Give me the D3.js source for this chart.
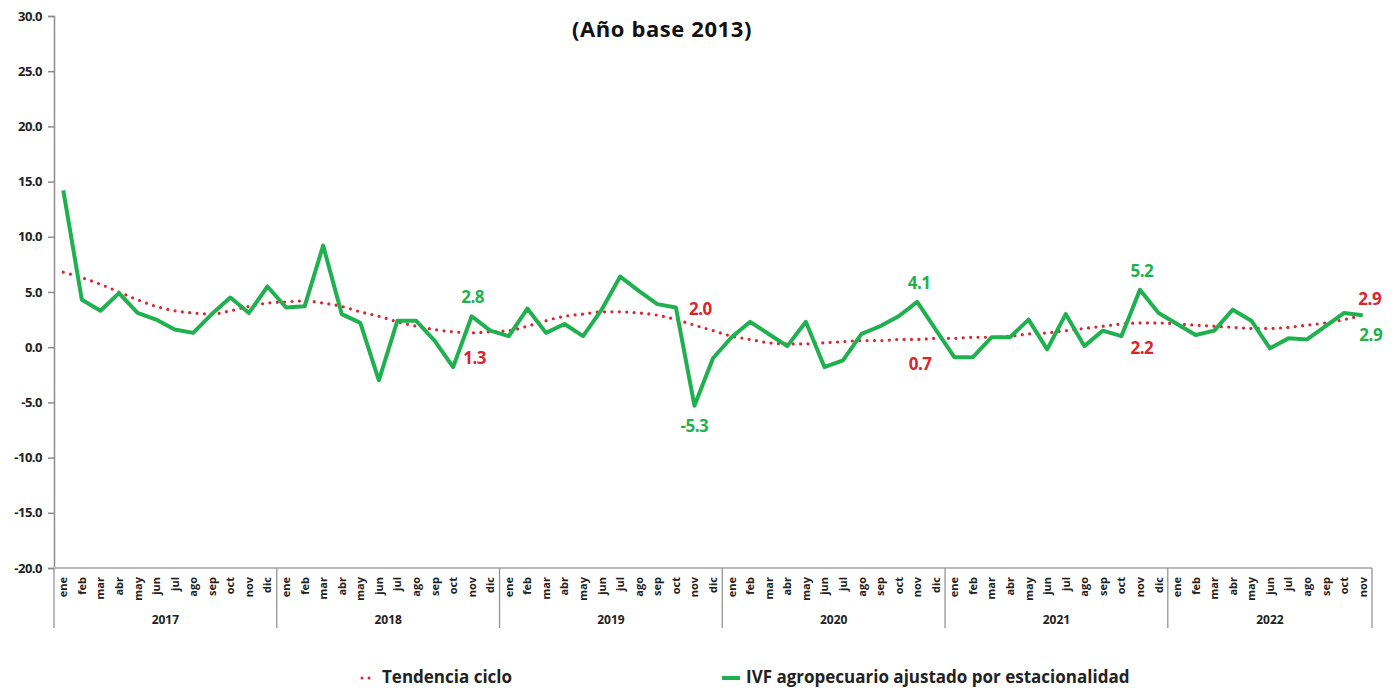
<!DOCTYPE html>
<html><head><meta charset="utf-8">
<script src="https://cdn.jsdelivr.net/npm/d3@7"></script>
<style>
body{margin:0;background:#fff;}
text{font-family:"Open Sans","DejaVu Sans",sans-serif;}
</style></head>
<body><svg id="c" width="1397" height="688"></svg>
<script>
const monthNames = ["ene","feb","mar","abr","may","jun","jul","ago","sep","oct","nov","dic"];
const years = ["2017","2018","2019","2020","2021","2022"];
const monthsPerYear = [12,12,12,12,12,11];
const yTicks = [30,25,20,15,10,5,0,-5,-10,-15,-20];
const ivf = [
 14.2,4.3,3.3,4.9,3.1,2.5,1.6,1.3,3.0,4.5,3.1,5.5,
 3.6,3.7,9.2,3.0,2.2,-3.0,2.4,2.4,0.6,-1.8,2.8,1.5,
 1.0,3.5,1.3,2.1,1.0,3.4,6.4,5.1,3.9,3.6,-5.3,-1.0,
 0.9,2.3,1.2,0.1,2.3,-1.8,-1.2,1.2,1.9,2.8,4.1,1.6,
 -0.9,-0.9,0.9,0.9,2.5,-0.2,3.0,0.1,1.5,1.0,5.2,3.1,
 2.1,1.1,1.5,3.4,2.4,-0.1,0.8,0.7,1.9,3.1,2.9
];
const trend = [
 6.8,6.3,5.7,5.0,4.3,3.7,3.3,3.1,3.0,3.3,3.7,4.0,
 4.1,4.2,4.0,3.7,3.2,2.8,2.3,1.9,1.6,1.4,1.3,1.4,
 1.5,1.9,2.4,2.8,3.0,3.2,3.2,3.1,2.9,2.5,2.0,1.5,
 1.0,0.7,0.4,0.3,0.3,0.4,0.5,0.6,0.6,0.7,0.7,0.8,
 0.8,0.9,0.9,1.0,1.2,1.3,1.5,1.7,1.9,2.1,2.2,2.2,
 2.1,2.0,1.9,1.8,1.7,1.7,1.8,2.0,2.2,2.5,2.9
];
// annotations: month index, series, placement
const annIndex = [22,22,34,34,46,46,58,58,70,70];
const annSeries = ["ivf","trend","trend","ivf","ivf","trend","ivf","trend","trend","ivf"];
const annPlace = ["above","below","above","below","above","below","above","below","above","below"];

const labels = [];
years.forEach((y,i)=>{for(let m=0;m<monthsPerYear[i];m++) labels.push({y, m:monthNames[m]});});
const N = labels.length;
const fmt = d => d.toFixed(1);

const svg = d3.select("#c");
const green = "#1fb14f", red = "#d9262e";
const axisCol = "#8c8c8c";
const x = d3.scaleBand().domain(d3.range(N)).range([54,1372]).padding(0);
const cx = i => x(i) + x.bandwidth()/2;
const y = d3.scaleLinear().domain([-20,30]).range([568,16]);

// y axis
const yAxis = d3.axisLeft(y).tickValues(yTicks).tickFormat(fmt).tickSize(6).tickPadding(6);
const gy = svg.append("g").attr("transform","translate(54,0)").call(yAxis);
gy.select(".domain").attr("stroke",axisCol).attr("stroke-width",1.5);
gy.selectAll(".tick line").attr("stroke",axisCol).attr("stroke-width",1.5);
gy.selectAll(".tick text").attr("font-size",13).attr("font-weight",700).attr("fill","#222").attr("letter-spacing","-0.5");

// x axis baseline
svg.append("line").attr("x1",54).attr("x2",1372).attr("y1",y(-20)).attr("y2",y(-20)).attr("stroke","#bbb").attr("stroke-width",2);

// month labels
svg.append("g").selectAll("text").data(labels).join("text")
 .attr("transform",(d,i)=>`translate(${cx(i)+4},577) rotate(-90)`)
 .attr("text-anchor","end").attr("font-size",11).attr("font-weight",700).attr("fill","#222")
 .text(d=>d.m);

// year separators and labels
let start=0;
const seps=[x(0)];
years.forEach((yr,i)=>{
  const end = start+monthsPerYear[i];
  const x0 = x(start), x1 = x(end-1)+x.bandwidth();
  seps.push(x1);
  svg.append("text").attr("x",(x0+x1)/2).attr("y",624).attr("text-anchor","middle")
    .attr("font-size",12).attr("font-weight",700).attr("fill","#222").text(yr);
  start=end;
});
svg.append("g").selectAll("line").data(seps).join("line")
 .attr("x1",d=>d).attr("x2",d=>d).attr("y1",y(-20)).attr("y2",628)
 .attr("stroke",axisCol).attr("stroke-width",1.2);

// trend line (dotted)
const lineT = d3.line().x((d,i)=>cx(i)).y(d=>y(d)).curve(d3.curveMonotoneX);
svg.append("path").datum(trend).attr("d",lineT).attr("fill","none")
 .attr("stroke",red).attr("stroke-width",3.2).attr("stroke-linecap","round").attr("stroke-dasharray","0 7.4");

// ivf line
const lineG = d3.line().x((d,i)=>cx(i)).y(d=>y(d));
svg.append("path").datum(ivf).attr("d",lineG).attr("fill","none")
 .attr("stroke",green).attr("stroke-width",4).attr("stroke-linejoin","round");

// annotations
const offsets = {ivf:{above:-13,below:26}, trend:{above:-10,below:31}};
const dxs = [1,3,6,0,2,3,2,2,7,8];
annIndex.forEach((idx,k)=>{
  const s = annSeries[k];
  const v = s==="ivf"?ivf[idx]:trend[idx];
  svg.append("text").attr("x",cx(idx)+dxs[k]).attr("y",y(v)+offsets[s][annPlace[k]])
   .attr("text-anchor","middle").attr("font-size",17).attr("font-weight",700)
   .attr("fill",s==="ivf"?green:red).attr("letter-spacing","-0.5").text(fmt(v));
});

// title
svg.append("text").attr("x",662).attr("y",37).attr("text-anchor","middle")
 .attr("font-size",22).attr("font-weight",700).attr("fill","#111").attr("letter-spacing","0.6").text("(Año base 2013)");

// legend
const lg = svg.append("g");
lg.append("line").attr("x1",362).attr("x2",372).attr("y1",678).attr("y2",678)
 .attr("stroke",red).attr("stroke-width",3).attr("stroke-linecap","round").attr("stroke-dasharray","0 7");
lg.append("text").attr("x",382).attr("y",683).attr("font-size",17).attr("font-weight",700).attr("fill","#222").text("Tendencia ciclo");
lg.append("line").attr("x1",722).attr("x2",740).attr("y1",678).attr("y2",678)
 .attr("stroke",green).attr("stroke-width",4);
lg.append("text").attr("x",746).attr("y",683).attr("font-size",17).attr("font-weight",700).attr("fill","#222").text("IVF agropecuario ajustado por estacionalidad");
</script></body></html>
